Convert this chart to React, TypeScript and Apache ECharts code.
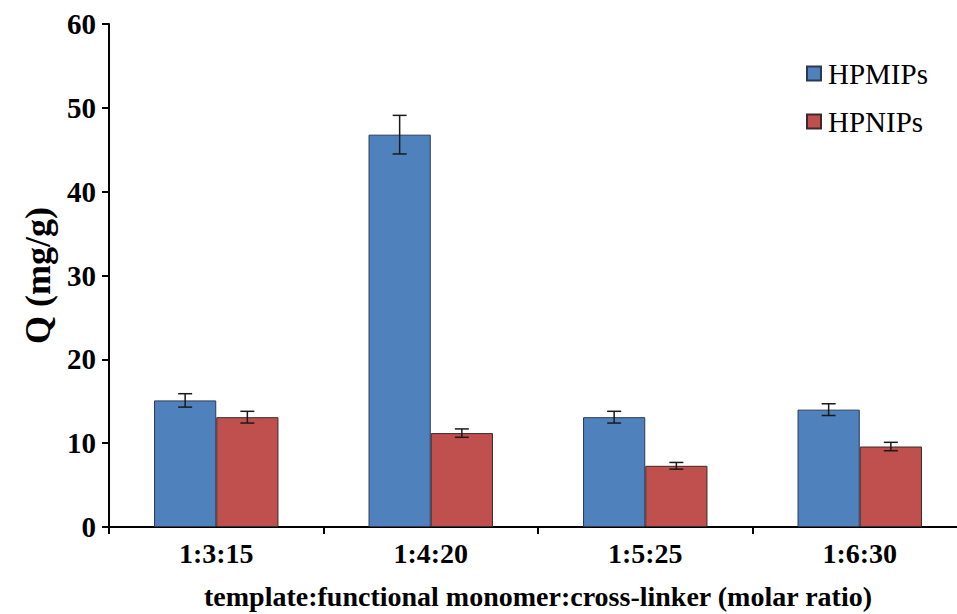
import React, { useEffect, useRef } from "react";
import * as echarts from "echarts";

const categories = ["1:3:15", "1:4:20", "1:5:25", "1:6:30"];
const seriesNames = ["HPMIPs", "HPNIPs"];
const hpmipsValues = [15.1, 46.8, 13.1, 14.0];
const hpmipsErrors = [0.8, 2.3, 0.7, 0.7];
const hpnipsValues = [13.1, 11.2, 7.3, 9.6];
const hpnipsErrors = [0.7, 0.5, 0.4, 0.5];
const yTicks = { min: 0, max: 60, interval: 10 };

const FONT = "Liberation Serif";
const BAR_GAP = 0.42;

export default function App() {
  const ref = useRef<HTMLDivElement>(null);
  useEffect(() => {
    document.body.style.margin = "0";
    const chart = echarts.init(ref.current!, null, { renderer: "svg" });
    const errData = (vals: number[], errs: number[]) =>
      vals.map((v, i) => [i, v - errs[i], v + errs[i]]);
    const makeErr = (idx: number, vals: number[], errs: number[]) => ({
      type: "custom",
      name: seriesNames[idx] + " error",
      data: errData(vals, errs),
      z: 10,
      silent: true,
      renderItem: (params: any, api: any) => {
        const x = api.value(0);
        const lo = api.coord([x, api.value(1)]);
        const hi = api.coord([x, api.value(2)]);
        const catW = api.size([1, 0])[0];
        const bw = (catW * (1 - BAR_GAP)) / 2;
        const cx = lo[0] + (idx === 0 ? -bw / 2 : bw / 2);
        const cap = 7;
        const style = { stroke: "#1a1a1a", lineWidth: 1.5 };
        return {
          type: "group",
          children: [
            { type: "line", shape: { x1: cx, y1: lo[1], x2: cx, y2: hi[1] }, style },
            { type: "line", shape: { x1: cx - cap, y1: hi[1], x2: cx + cap, y2: hi[1] }, style },
            { type: "line", shape: { x1: cx - cap, y1: lo[1], x2: cx + cap, y2: lo[1] }, style },
          ],
        };
      },
    });
    chart.setOption({
      animation: false,
      backgroundColor: "#ffffff",
      grid: { left: 109, right: 0, top: 24, bottom: 87, containLabel: false, outerBoundsMode: "none" },
      legend: {
        data: seriesNames,
        orient: "vertical",
        left: 806,
        top: 59,
        padding: 0,
        icon: "rect",
        itemWidth: 14,
        itemHeight: 14,
        itemGap: 19,
        textStyle: { fontFamily: FONT, fontSize: 29, color: "#000", padding: [0, 0, 0, 2] },
      },
      xAxis: {
        type: "category",
        data: categories,
        axisLine: { lineStyle: { color: "#000", width: 2 } },
        axisTick: { show: true, length: 7, lineStyle: { color: "#000", width: 2 } },
        axisLabel: { fontFamily: FONT, fontWeight: "bold", fontSize: 28, color: "#000", margin: 12 },
        name: "template:functional monomer:cross-linker (molar ratio)",
        nameLocation: "middle",
        nameGap: 55,
        nameTextStyle: { fontFamily: FONT, fontWeight: "bold", fontSize: 28, color: "#000" },
      },
      yAxis: {
        type: "value",
        min: yTicks.min,
        max: yTicks.max,
        interval: yTicks.interval,
        splitLine: { show: false },
        axisLine: { show: true, lineStyle: { color: "#000", width: 2 } },
        axisTick: { show: true, length: 7, lineStyle: { color: "#000", width: 2 } },
        axisLabel: { fontFamily: FONT, fontWeight: "bold", fontSize: 29, color: "#000", margin: 13 },
        name: "Q (mg/g)",
        nameLocation: "middle",
        nameGap: 53,
        nameRotate: 90,
        nameTextStyle: { fontFamily: FONT, fontWeight: "bold", fontSize: 36, color: "#000" },
      },
      series: [
        {
          type: "bar",
          name: seriesNames[0],
          data: hpmipsValues,
          barGap: "0%",
          barCategoryGap: BAR_GAP * 100 + "%",
          itemStyle: { color: "#4F81BD", borderColor: "#2a3a55", borderWidth: 1 },
        },
        {
          type: "bar",
          name: seriesNames[1],
          data: hpnipsValues,
          barGap: "0%",
          barCategoryGap: BAR_GAP * 100 + "%",
          itemStyle: { color: "#C0504D", borderColor: "#3a2a2a", borderWidth: 1 },
        },
        makeErr(0, hpmipsValues, hpmipsErrors),
        makeErr(1, hpnipsValues, hpnipsErrors),
      ],
    });
    return () => chart.dispose();
  }, []);
  return (
    <div style={{ width: 957, height: 614, overflow: "hidden", position: "relative" }}>
      <div ref={ref} style={{ width: 967, height: 614 }} />
    </div>
  );
}
